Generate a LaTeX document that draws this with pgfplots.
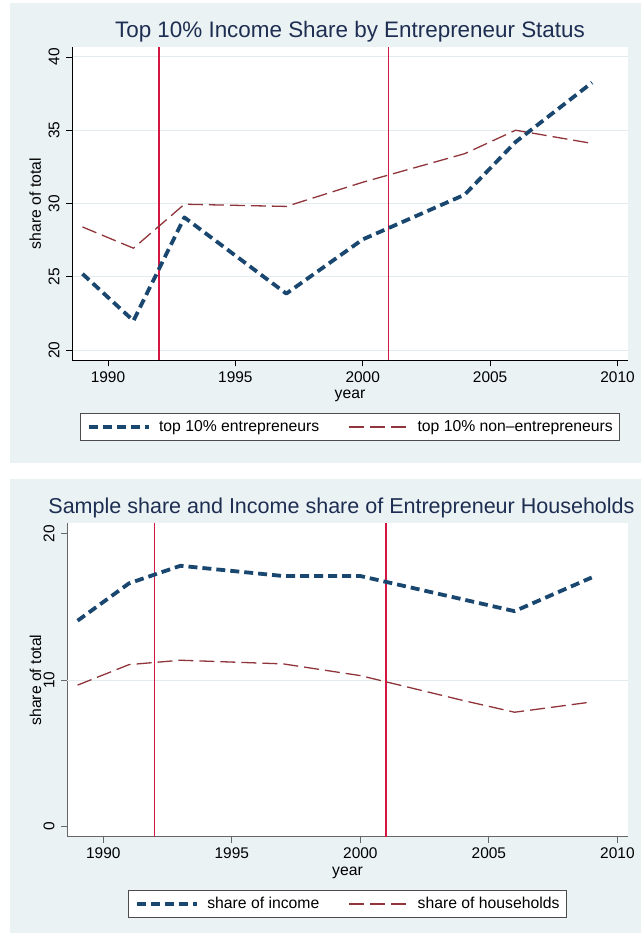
\documentclass[border=0pt]{standalone}
\usepackage{fontspec}
\setmainfont{Liberation Sans}
\usepackage{pgfplots}
\pgfplotsset{compat=1.18}

\definecolor{stbg}{RGB}{234,242,243}
\definecolor{stgrid}{RGB}{226,236,238}
\definecolor{stnavy}{RGB}{26,71,111}
\definecolor{stmaroon}{RGB}{144,53,59}
\definecolor{stxline}{RGB}{212,22,66}
\definecolor{sttitle}{RGB}{30,45,82}

% shared look of both panels
\pgfplotsset{
  stpanel/.style={
    scale only axis,
    anchor=south west,
    axis background/.style={fill=white},
    axis x line=bottom, axis y line=left,
    axis line style={-, line width=0.9bp},
    tick align=outside,
    major tick length=6bp,
    xmin=1988.6, xmax=2010.4,
    xtick={1990,1995,2000,2005,2010},
    /pgf/number format/1000 sep={},
    /pgf/number format/assume math mode=true,
    tick label style={font=\fontsize{15.5}{16}\selectfont, text=black},
    xticklabel style={anchor=north, inner sep=0pt, yshift=-5bp},
    yticklabel style={xshift=-7bp, rotate=90, anchor=base, inner sep=0pt},
    grid style={stgrid, line width=1bp},
    every axis title/.style={at={(axis description cs:0.5,1)}, anchor=base,
      yshift=9.6bp, inner sep=0pt, font=\fontsize{22.5}{24}\selectfont, text=sttitle},
    every axis x label/.style={at={(axis description cs:0.5,-0.1228)}, anchor=base,
      inner sep=0pt, font=\fontsize{15.8}{17}\selectfont},
    every axis y label/.style={rotate=90, anchor=base, inner sep=0pt,
      font=\fontsize{15.8}{17}\selectfont},
    xlabel={year}, ylabel={share of total},
    legend columns=2,
    legend cell align=left,
    legend image code/.code={\draw[#1, line cap=butt] (0bp,0bp) -- (60bp,0bp);},
    legend style={draw=black!70, line width=0.9bp, fill=white,
      inner xsep=7bp, inner ysep=7bp,
      font=\fontsize{15.8}{17}\selectfont,
      nodes={inner sep=0pt},
      /tikz/every odd column/.append style={column sep=8bp},
      /tikz/every even column/.append style={column sep=29bp},
      anchor=center},
  },
  seriesA/.style={stnavy, line width=3.8bp, dash pattern=on 9bp off 5bp, line cap=butt, line join=round},
  seriesB/.style={stmaroon, line width=1.3bp, dash pattern=on 15bp off 6bp, line cap=butt, line join=round},
  vline/.style={stxline, line width=1.3bp, forget plot},
}

\pgfplotstableread{
year  ent    nonent
1989  25.2   28.4
1991  22.0   26.95
1993  29.05  29.95
1997  23.85  29.8
2000  27.55  31.45
2004  30.6   33.4
2006  34.2   35.0
2009  38.25  34.1
}\topshares

\pgfplotstableread{
year  income  households
1989  14.05   9.65
1991  16.6    11.05
1993  17.8    11.35
1997  17.1    11.1
2000  17.1    10.3
2004  15.5    8.6
2006  14.7    7.8
2009  17.0    8.5
}\entshares

\begin{document}
\begin{tikzpicture}
\useasboundingbox (0bp,0bp) rectangle (641bp,-936bp);
\fill[white] (0bp,0bp) rectangle (641bp,-936bp);
\fill[stbg] (10bp,-3.3bp) rectangle (641bp,-463.3bp);
\fill[stbg] (10bp,-479bp) rectangle (641bp,-933bp);

% upper panel: top 10% income share
\begin{axis}[stpanel,
  at={(72.3bp,-360.3bp)},
  width=555.4bp, height=313.6bp,
  ymin=19.3, ymax=40.7,
  ytick={20,25,30,35,40},
  ymajorgrids,
  axis line style={black},
  tick style={black, line width=0.9bp},
  title={Top 10\% Income Share by Entrepreneur Status},
  every axis y label/.append style={at={(axis description cs:-0.0564,0.5)}},
  legend style={at={(axis description cs:0.5,-0.2127)}},
]
\addplot[vline] coordinates {(1992,19.3) (1992,40.7)};
\addplot[vline] coordinates {(2001,19.3) (2001,40.7)};
\addplot[seriesA] table[x=year, y=ent] {\topshares};
\addlegendentry{top 10\% entrepreneurs}
\addplot[seriesB] table[x=year, y=nonent] {\topshares};
\addlegendentry{top 10\% non\textendash entrepreneurs}
\end{axis}

% lower panel: sample and income share of entrepreneur households
\begin{axis}[stpanel,
  at={(67.3bp,-836.7bp)},
  width=560.4bp, height=313.4bp,
  ymin=-0.7, ymax=20.7,
  ytick={0,20},
  extra y ticks={10},
  extra y tick style={ymajorgrids=true},
  axis line style={black!60},
  tick style={black!60, line width=0.9bp},
  title={Sample share and Income share of Entrepreneur Households},
  title style={xshift=-6bp, font=\fontsize{21.6}{23}\selectfont},
  every axis y label/.append style={at={(axis description cs:-0.0469,0.5)}},
  legend style={at={(axis description cs:0.5,-0.2147)}},
]
\addplot[vline] coordinates {(1992,-0.7) (1992,20.7)};
\addplot[vline] coordinates {(2001,-0.7) (2001,20.7)};
\addplot[seriesA] table[x=year, y=income] {\entshares};
\addlegendentry{share of income}
\addplot[seriesB] table[x=year, y=households] {\entshares};
\addlegendentry{share of households}
\end{axis}
\end{tikzpicture}
\end{document}
